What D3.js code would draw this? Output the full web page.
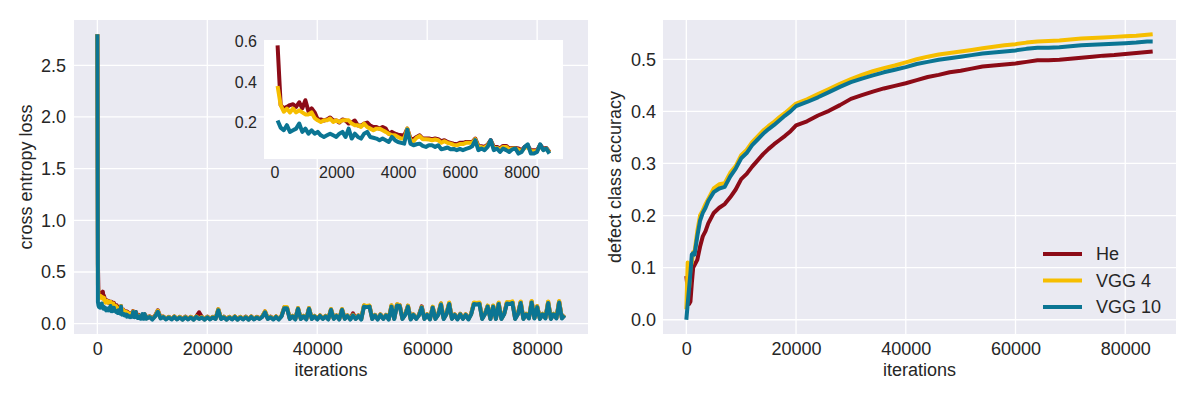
<!DOCTYPE html>
<html>
<head>
<meta charset="utf-8">
<script src="https://cdn.jsdelivr.net/npm/d3@7"></script>
<style>
  body { margin: 0; background: #fff; }
  svg text { font-family: "Liberation Sans", Arial, sans-serif; fill: #262626; }
</style>
</head>
<body>
<svg id="chart" width="1196" height="399"></svg>
<script>
// ---- data ----
const seriesNames = ['He', 'VGG 4', 'VGG 10'];
const seriesColors = ['#8c0b17', '#f6be00', '#0b7593'];

// loss logged every 100 iterations up to 9000, then every 500
const fineIters = d3.range(0, 9000, 100);
const tailIters = d3.range(9000, 85001, 500);

const heLossFine = [2.8, 0.58, 0.286, 0.27, 0.277, 0.286, 0.29, 0.277, 0.30, 0.27, 0.31,
  0.255, 0.27, 0.25, 0.215, 0.215, 0.21, 0.215, 0.225, 0.21, 0.21,
  0.20, 0.215, 0.21, 0.195, 0.20, 0.21, 0.185, 0.185, 0.195, 0.20,
  0.185, 0.178, 0.178, 0.17, 0.178, 0.17, 0.145, 0.154, 0.145, 0.14,
  0.137, 0.137, 0.17, 0.121, 0.118, 0.129, 0.137, 0.121, 0.121, 0.121,
  0.118, 0.121, 0.118, 0.108, 0.113, 0.104, 0.10, 0.096, 0.093, 0.10,
  0.10, 0.104, 0.104, 0.104, 0.121, 0.085, 0.083, 0.08, 0.091, 0.113,
  0.08, 0.08, 0.072, 0.085, 0.085, 0.072, 0.075, 0.075, 0.072, 0.063,
  0.08, 0.085, 0.063, 0.063, 0.063, 0.09, 0.072, 0.075, 0.055];
const vgg4LossFine = [2.8, 0.38, 0.286, 0.253, 0.269, 0.25, 0.269, 0.25, 0.26, 0.25, 0.24,
  0.24, 0.25, 0.222, 0.211, 0.203, 0.211, 0.211, 0.22, 0.203, 0.211,
  0.203, 0.211, 0.211, 0.211, 0.195, 0.187, 0.187, 0.178, 0.195, 0.178,
  0.17, 0.162, 0.17, 0.17, 0.162, 0.154, 0.145, 0.137, 0.137, 0.129,
  0.121, 0.121, 0.17, 0.113, 0.108, 0.125, 0.133, 0.118, 0.118, 0.116,
  0.113, 0.116, 0.113, 0.10, 0.108, 0.10, 0.096, 0.09, 0.088, 0.094,
  0.094, 0.10, 0.10, 0.10, 0.118, 0.08, 0.079, 0.075, 0.088, 0.108,
  0.075, 0.075, 0.068, 0.08, 0.08, 0.068, 0.072, 0.072, 0.066, 0.059,
  0.075, 0.08, 0.059, 0.059, 0.059, 0.088, 0.066, 0.072, 0.052];
const vgg10LossFine = [2.8, 0.21, 0.175, 0.162, 0.187, 0.154, 0.162, 0.17, 0.195, 0.154, 0.17,
  0.145, 0.162, 0.145, 0.154, 0.137, 0.129, 0.137, 0.145, 0.137, 0.129,
  0.145, 0.154, 0.129, 0.17, 0.121, 0.145, 0.129, 0.121, 0.145, 0.154,
  0.129, 0.125, 0.121, 0.113, 0.121, 0.113, 0.104, 0.129, 0.113, 0.104,
  0.10, 0.096, 0.165, 0.096, 0.088, 0.093, 0.096, 0.085, 0.08, 0.088,
  0.088, 0.08, 0.088, 0.068, 0.072, 0.077, 0.068, 0.07, 0.064, 0.07,
  0.064, 0.07, 0.075, 0.083, 0.113, 0.064, 0.072, 0.064, 0.08, 0.113,
  0.064, 0.072, 0.055, 0.072, 0.064, 0.055, 0.068, 0.072, 0.047, 0.055,
  0.08, 0.093, 0.047, 0.047, 0.055, 0.093, 0.064, 0.072, 0.047];

const heLossTail = [0.058, 0.072, 0.048, 0.078, 0.13, 0.058, 0.07, 0.048, 0.066, 0.046,
  0.07, 0.046, 0.066, 0.044, 0.068, 0.046, 0.066, 0.044, 0.07, 0.11,
  0.066, 0.044, 0.068, 0.046, 0.066, 0.05, 0.138, 0.05, 0.068, 0.044,
  0.066, 0.046, 0.07, 0.044, 0.066, 0.046, 0.068, 0.044, 0.07, 0.046,
  0.066, 0.05, 0.07, 0.118, 0.05, 0.068, 0.046, 0.07, 0.046, 0.075,
  0.158, 0.155, 0.05, 0.075, 0.046, 0.15, 0.05, 0.075, 0.046, 0.15,
  0.05, 0.075, 0.046, 0.08, 0.05, 0.075, 0.046, 0.14, 0.05, 0.08,
  0.046, 0.14, 0.05, 0.08, 0.046, 0.1, 0.05, 0.08, 0.046, 0.175,
  0.168, 0.172, 0.05, 0.085, 0.046, 0.09, 0.05, 0.085, 0.046, 0.175,
  0.05, 0.185, 0.178, 0.05, 0.09, 0.172, 0.046, 0.09, 0.05, 0.085,
  0.168, 0.05, 0.09, 0.046, 0.162, 0.05, 0.09, 0.195, 0.05, 0.095,
  0.2, 0.05, 0.09, 0.046, 0.095, 0.05, 0.09, 0.046, 0.095, 0.2,
  0.196, 0.2, 0.05, 0.095, 0.172, 0.05, 0.172, 0.05, 0.2, 0.05,
  0.095, 0.205, 0.2, 0.21, 0.05, 0.095, 0.21, 0.05, 0.095, 0.055,
  0.215, 0.055, 0.168, 0.05, 0.095, 0.055, 0.21, 0.05, 0.095, 0.055,
  0.215, 0.055, 0.085];
const vgg4LossTail = [0.055, 0.07, 0.045, 0.075, 0.125, 0.055, 0.07, 0.045, 0.065, 0.045,
  0.07, 0.045, 0.065, 0.042, 0.066, 0.045, 0.065, 0.042, 0.07, 0.05,
  0.065, 0.042, 0.066, 0.045, 0.065, 0.05, 0.14, 0.05, 0.066, 0.042,
  0.065, 0.045, 0.07, 0.042, 0.065, 0.045, 0.066, 0.042, 0.07, 0.045,
  0.065, 0.05, 0.07, 0.12, 0.05, 0.066, 0.045, 0.07, 0.045, 0.075,
  0.16, 0.16, 0.05, 0.075, 0.045, 0.152, 0.05, 0.075, 0.045, 0.152,
  0.05, 0.075, 0.045, 0.08, 0.05, 0.075, 0.045, 0.142, 0.05, 0.08,
  0.045, 0.142, 0.05, 0.08, 0.045, 0.085, 0.05, 0.08, 0.045, 0.178,
  0.17, 0.175, 0.05, 0.085, 0.045, 0.09, 0.05, 0.085, 0.045, 0.178,
  0.05, 0.188, 0.18, 0.05, 0.09, 0.175, 0.045, 0.09, 0.05, 0.085,
  0.16, 0.05, 0.09, 0.045, 0.165, 0.05, 0.09, 0.198, 0.05, 0.095,
  0.205, 0.05, 0.09, 0.045, 0.095, 0.05, 0.09, 0.045, 0.095, 0.205,
  0.2, 0.205, 0.05, 0.095, 0.175, 0.05, 0.175, 0.05, 0.205, 0.05,
  0.095, 0.21, 0.205, 0.215, 0.05, 0.095, 0.215, 0.05, 0.095, 0.055,
  0.22, 0.055, 0.17, 0.05, 0.095, 0.055, 0.215, 0.05, 0.095, 0.055,
  0.22, 0.055, 0.085];
const vgg10LossTail = [0.05, 0.065, 0.04, 0.07, 0.115, 0.05, 0.065, 0.04, 0.06, 0.04,
  0.065, 0.04, 0.06, 0.038, 0.062, 0.04, 0.06, 0.038, 0.065, 0.045,
  0.06, 0.038, 0.062, 0.04, 0.06, 0.045, 0.13, 0.045, 0.062, 0.038,
  0.06, 0.04, 0.065, 0.038, 0.06, 0.04, 0.062, 0.038, 0.065, 0.04,
  0.06, 0.045, 0.065, 0.11, 0.045, 0.062, 0.04, 0.065, 0.04, 0.07,
  0.15, 0.15, 0.045, 0.07, 0.04, 0.145, 0.045, 0.07, 0.04, 0.145,
  0.045, 0.07, 0.04, 0.075, 0.045, 0.07, 0.04, 0.135, 0.045, 0.075,
  0.04, 0.135, 0.045, 0.075, 0.04, 0.08, 0.045, 0.075, 0.04, 0.165,
  0.16, 0.165, 0.045, 0.08, 0.04, 0.085, 0.045, 0.08, 0.04, 0.165,
  0.045, 0.175, 0.17, 0.045, 0.085, 0.165, 0.04, 0.085, 0.045, 0.08,
  0.155, 0.045, 0.085, 0.04, 0.155, 0.045, 0.085, 0.185, 0.045, 0.09,
  0.19, 0.045, 0.085, 0.04, 0.09, 0.045, 0.085, 0.04, 0.09, 0.19,
  0.185, 0.19, 0.045, 0.09, 0.165, 0.045, 0.165, 0.045, 0.19, 0.045,
  0.09, 0.195, 0.19, 0.2, 0.045, 0.09, 0.2, 0.045, 0.09, 0.05,
  0.205, 0.05, 0.16, 0.045, 0.09, 0.05, 0.2, 0.045, 0.09, 0.05,
  0.205, 0.05, 0.08];

// accuracy curves
const accIters = [0, 250, 500, 750, 1000, 1250, 1500, 2000, 2500, 3000, 3500, 4000,
  5000, 6000, 7000, 8000, 9000, 10000, 11000, 12000, 13000, 14000, 15000, 16000,
  17000, 18000, 19000, 20000, 22000, 24000, 26000, 28000, 30000, 32000, 34000, 36000,
  38000, 40000, 42000, 44000, 46000, 48000, 50000, 52000, 54000, 56000, 58000, 60000,
  62000, 64000, 66000, 68000, 70000, 72000, 74000, 76000, 78000, 80000, 82000, 84000, 85000];
const heAcc = [0.084, 0.06, 0.03, 0.035, 0.07, 0.1, 0.105, 0.115, 0.14, 0.16, 0.17, 0.185,
  0.205, 0.215, 0.222, 0.235, 0.25, 0.27, 0.28, 0.294, 0.306, 0.318, 0.328, 0.337,
  0.345, 0.353, 0.362, 0.373, 0.381, 0.392, 0.401, 0.412, 0.424, 0.431, 0.438, 0.444,
  0.449, 0.454, 0.46, 0.466, 0.47, 0.475, 0.478, 0.482, 0.486, 0.488, 0.49, 0.492,
  0.495, 0.498, 0.498, 0.499, 0.501, 0.503, 0.505, 0.507, 0.508, 0.51, 0.512, 0.514, 0.515];
const vgg4Acc = [0.02, 0.11, 0.06, 0.1, 0.11, 0.13, 0.13, 0.17, 0.2, 0.21, 0.222, 0.232,
  0.252, 0.26, 0.262, 0.282, 0.295, 0.316, 0.326, 0.341, 0.352, 0.363, 0.372, 0.38,
  0.389, 0.397, 0.406, 0.415, 0.423, 0.433, 0.443, 0.453, 0.462, 0.47, 0.477, 0.483,
  0.488, 0.494, 0.5, 0.505, 0.509, 0.512, 0.515, 0.518, 0.521, 0.524, 0.527, 0.529,
  0.532, 0.534, 0.535, 0.536, 0.538, 0.54, 0.541, 0.542, 0.543, 0.544, 0.545, 0.547, 0.548];
const vgg10Acc = [0.0, 0.03, 0.06, 0.09, 0.125, 0.128, 0.125, 0.16, 0.19, 0.205, 0.215, 0.228,
  0.245, 0.252, 0.255, 0.275, 0.29, 0.31, 0.32, 0.335, 0.346, 0.357, 0.366, 0.374,
  0.383, 0.392, 0.4, 0.41, 0.418, 0.427, 0.437, 0.447, 0.456, 0.463, 0.469, 0.475,
  0.48, 0.485, 0.491, 0.495, 0.499, 0.502, 0.505, 0.508, 0.511, 0.513, 0.515, 0.517,
  0.52, 0.522, 0.522, 0.523, 0.525, 0.527, 0.528, 0.529, 0.53, 0.531, 0.532, 0.534, 0.534];

const lossTicksY = [0, 0.5, 1.0, 1.5, 2.0, 2.5];
const iterTicks = [0, 20000, 40000, 60000, 80000];
const insetTicksY = [0.2, 0.4, 0.6];
const insetTicksX = [0, 2000, 4000, 6000, 8000];
const accTicksY = [0, 0.1, 0.2, 0.3, 0.4, 0.5];

// ---- build series ----
const lossIters = fineIters.concat(tailIters);
const lossSeries = [
  heLossFine.concat(heLossTail),
  vgg4LossFine.concat(vgg4LossTail),
  vgg10LossFine.concat(vgg10LossTail)
].map(vals => vals.map((v, i) => ({ x: lossIters[i], y: v })));
// inset leaves out the first logged point
const insetSeries = lossSeries.map(s => s.slice(1, fineIters.length));
const accSeries = [heAcc, vgg4Acc, vgg10Acc]
  .map(vals => vals.map((v, i) => ({ x: accIters[i], y: v })));

// matplotlib-style 5% margins
function padded(ext) {
  const d = ext[1] - ext[0];
  return [ext[0] - 0.05 * d, ext[1] + 0.05 * d];
}
function extentOf(list, key) {
  return d3.extent(list.flat(), d => d[key]);
}

const svg = d3.select('#chart');
const BG = '#eaeaf2';

function panel(box, series, opts) {
  const x = d3.scaleLinear().domain(padded(extentOf(series, 'x'))).range([box.x0, box.x1]);
  const y = d3.scaleLinear().domain(padded(extentOf(series, 'y'))).range([box.y1, box.y0]);
  const g = svg.append('g');

  g.append('rect')
    .attr('x', box.x0).attr('y', box.y0)
    .attr('width', box.x1 - box.x0).attr('height', box.y1 - box.y0)
    .attr('fill', opts.bg);

  if (opts.grid) {
    g.append('g').selectAll('line').data(opts.ticksX).enter().append('line')
      .attr('x1', d => x(d)).attr('x2', d => x(d))
      .attr('y1', box.y0).attr('y2', box.y1)
      .attr('stroke', '#fff').attr('stroke-width', 1.3);
    g.append('g').selectAll('line').data(opts.ticksY).enter().append('line')
      .attr('y1', d => y(d)).attr('y2', d => y(d))
      .attr('x1', box.x0).attr('x2', box.x1)
      .attr('stroke', '#fff').attr('stroke-width', 1.3);
  }

  const xAxis = g.append('g')
    .attr('transform', `translate(0,${box.y1})`)
    .call(d3.axisBottom(x).tickValues(opts.ticksX).tickFormat(d3.format('d'))
      .tickSize(0).tickPadding(opts.padX));
  const yAxis = g.append('g')
    .attr('transform', `translate(${box.x0},0)`)
    .call(d3.axisLeft(y).tickValues(opts.ticksY).tickFormat(d3.format('.1f'))
      .tickSize(0).tickPadding(opts.padY));
  [xAxis, yAxis].forEach(a => {
    a.select('.domain').remove();
    a.selectAll('text').attr('font-size', opts.fontSize);
  });

  const line = d3.line().x(d => x(d.x)).y(d => y(d.y));
  g.append('g').selectAll('path').data(series).enter().append('path')
    .attr('d', line)
    .attr('fill', 'none')
    .attr('stroke', (d, i) => seriesColors[i])
    .attr('stroke-width', opts.lineWidth)
    .attr('stroke-linejoin', 'round');
  return g;
}

// left: loss
panel({ x0: 74, x1: 588, y0: 20, y1: 334 }, lossSeries,
  { bg: BG, grid: true, ticksX: iterTicks, ticksY: lossTicksY, padX: 8, padY: 8, fontSize: 18, lineWidth: 4 });
// inset
panel({ x0: 264, x1: 563, y0: 40, y1: 159 }, insetSeries,
  { bg: '#fff', grid: false, ticksX: insetTicksX, ticksY: insetTicksY, padX: 8, padY: 7, fontSize: 16, lineWidth: 4 });
// right: accuracy
panel({ x0: 663, x1: 1176, y0: 20, y1: 334 }, accSeries,
  { bg: BG, grid: true, ticksX: iterTicks, ticksY: accTicksY, padX: 8, padY: 7, fontSize: 18, lineWidth: 4 });

// axis titles
svg.append('text').attr('x', 331).attr('y', 376).attr('text-anchor', 'middle')
  .attr('font-size', 18).text('iterations');
svg.append('text').attr('x', 919.5).attr('y', 376).attr('text-anchor', 'middle')
  .attr('font-size', 18).text('iterations');
svg.append('text').attr('transform', 'translate(32,177) rotate(-90)')
  .attr('text-anchor', 'middle').attr('font-size', 18).text('cross entropy loss');
svg.append('text').attr('transform', 'translate(621,177) rotate(-90)')
  .attr('text-anchor', 'middle').attr('font-size', 18).text('defect class accuracy');

// legend
const legend = svg.append('g').attr('transform', 'translate(1043,254)');
const item = legend.selectAll('g').data(seriesNames).enter().append('g')
  .attr('transform', (d, i) => `translate(0,${i * 26.5})`);
item.append('line').attr('x1', 0).attr('x2', 39)
  .attr('stroke', (d, i) => seriesColors[i]).attr('stroke-width', 4);
item.append('text').attr('x', 53).attr('dy', '0.35em').attr('font-size', 18).text(d => d);
</script>
</body>
</html>
